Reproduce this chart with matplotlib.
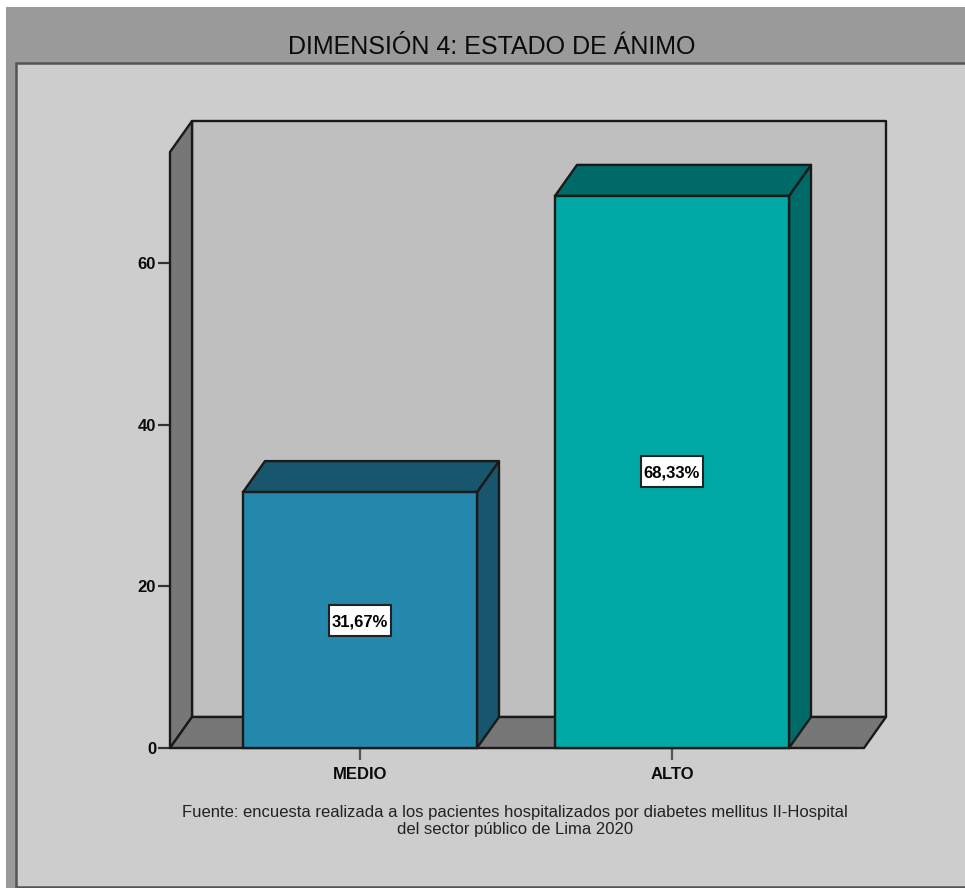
import matplotlib
matplotlib.use("Agg")
import matplotlib.pyplot as plt
from matplotlib.patches import Polygon, Rectangle

categories = ["MEDIO", "ALTO"]
values = [31.67, 68.33]
value_labels = ["31,67%", "68,33%"]
y_ticks = [0, 20, 40, 60]

W, H = 965, 889
OUTLINE = "#1a1a1a"
front_colors = ["#2388ac", "#00a8a6"]
side_colors = ["#17566c", "#006a68"]

# plot frame in pixels, front plane of the 3d box
LEFT, RIGHT, TOP, BOTTOM = 170, 864, 152, 748
PX_PER_CAT = 312.0
PX_PER_VAL = 8.08
BAR_W = 234 / PX_PER_CAT
DX = 22 / PX_PER_CAT
DY = 31 / PX_PER_VAL
LABEL_W = 62 / PX_PER_CAT
LABEL_H = 31 / PX_PER_VAL

plt.rcParams["font.family"] = "Liberation Sans"


def poly(ax, pts, color, z=2, lw=1.7):
    ax.add_patch(Polygon(pts, closed=True, facecolor=color, edgecolor=OUTLINE,
                         linewidth=lw, joinstyle="round", clip_on=False, zorder=z))


fig = plt.figure(figsize=(W / 100, H / 100), dpi=100, facecolor="white")

# outer chart frame
fig.add_artist(Rectangle((6 / W, 0), 1, 1 - 7 / H, transform=fig.transFigure,
                         facecolor="#9a9a9a", edgecolor="none", zorder=-3))
fig.add_artist(Rectangle((16 / W, 2 / H), 1, 1 - 65 / H, transform=fig.transFigure,
                         facecolor="#cdcdcd", edgecolor="#555555", linewidth=1.8, zorder=-2))
fig.add_artist(Rectangle((0, 0), 1, 1 / H, transform=fig.transFigure,
                         facecolor="white", edgecolor="none", zorder=-1))

fig.text(492 / W, 1 - 54 / H, "DIMENSIÓN 4: ESTADO DE ÁNIMO", ha="center", va="baseline",
         fontsize=18, color="#0a0a0a")

ax = fig.add_axes([LEFT / W, 1 - BOTTOM / H, (RIGHT - LEFT) / W, (BOTTOM - TOP) / H])
ax.patch.set_alpha(0)
for s in ax.spines.values():
    s.set_visible(False)

x0 = (LEFT - 360) / PX_PER_CAT
x1 = x0 + (RIGHT - LEFT) / PX_PER_CAT
y1 = (BOTTOM - TOP) / PX_PER_VAL
ax.set_xlim(x0, x1)
ax.set_ylim(0, y1)

# walls and floor
poly(ax, [(x0 + DX, DY), (x1 + DX, DY), (x1 + DX, y1 + DY), (x0 + DX, y1 + DY)], "#bfbfbf", 1)
poly(ax, [(x0, 0), (x0 + DX, DY), (x0 + DX, y1 + DY), (x0, y1)], "#777777", 2)
poly(ax, [(x0, 0), (x1, 0), (x1 + DX, DY), (x0 + DX, DY)], "#777777", 2)

# bars with depth
for i, (v, lab) in enumerate(zip(values, value_labels)):
    l, r = i - BAR_W / 2, i + BAR_W / 2
    ax.bar(i, v, width=BAR_W, color=front_colors[i], edgecolor=OUTLINE,
           linewidth=1.7, zorder=5, clip_on=False)
    poly(ax, [(r, 0), (r + DX, DY), (r + DX, v + DY), (r, v)], side_colors[i], 4)
    poly(ax, [(l, v), (r, v), (r + DX, v + DY), (l + DX, v + DY)], side_colors[i], 4)
    ax.add_patch(Rectangle((i - LABEL_W / 2, v / 2 - LABEL_H / 2), LABEL_W, LABEL_H,
                           facecolor="white", edgecolor="#222222", linewidth=1.5, zorder=6))
    ax.text(i, v / 2, lab, ha="center", va="center_baseline", fontsize=12, fontweight="bold",
            color="black", zorder=7)

ax.set_yticks(y_ticks)
ax.set_xticks(range(len(categories)))
ax.set_xticklabels(categories)
ax.tick_params(axis="y", length=8.5, width=1.6, color="#333333", pad=1.5)
ax.tick_params(axis="x", length=8.5, width=1.6, color="#555555", pad=5)
for t in ax.get_xticklabels() + ax.get_yticklabels():
    t.set_fontweight("bold")
    t.set_fontsize(12)
    t.set_color("#0a0a0a")

fig.text(515 / W, 1 - 821 / H,
         "Fuente: encuesta realizada a los pacientes hospitalizados por diabetes mellitus II-Hospital\n"
         "del sector público de Lima 2020",
         ha="center", va="center", fontsize=12, color="#222222", linespacing=1.15)

fig.savefig("out.png", dpi=100, facecolor="white")
